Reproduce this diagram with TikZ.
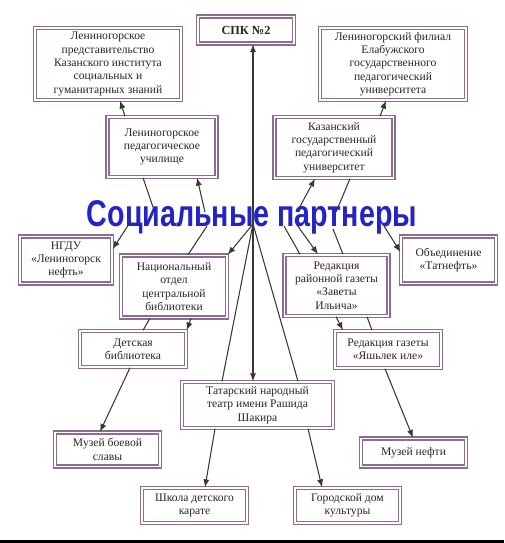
\documentclass[tikz,border=0pt]{standalone}
\usepackage{fontspec}
\setmainfont{Liberation Serif}
\newfontfamily\titlefont{Liberation Sans}
\usetikzlibrary{arrows.meta}

\definecolor{boxcol}{RGB}{140,108,145}
\definecolor{linecol}{RGB}{55,55,55}
\definecolor{titlecol}{RGB}{35,35,200}

\tikzset{
  box/.style 2 args={draw=boxcol, line width=0.8pt, double=white,
    double distance=0.7pt, fill=white, align=center, inner sep=1pt,
    text=black!85, font=\fontsize{6.6}{7.6}\selectfont,
    minimum width={#1*0.02cm}, minimum height={#2*0.02cm}},
  link/.style={draw=linecol, line width=0.6pt},
  arr/.style={link, -{Latex[length=4.5pt,width=3.5pt]}},
}

\begin{document}
\begin{tikzpicture}[x=0.02cm, y=-0.02cm]
  \useasboundingbox (0,0) rectangle (504,543);
  \fill[black] (0,540) rectangle (504,543);

  \node[box={96}{27}, font=\bfseries\fontsize{7}{8}\selectfont] (spk) at (246,30) {СПК №2};
  \node[box={146}{72}] (kisgz) at (108,64) {Лениногорское\\ представительство\\ Казанского института\\ социальных и\\ гуманитарных знаний};
  \node[box={146}{72}] (efil) at (393,64) {Лениногорский филиал\\ Елабужского\\ государственного\\ педагогический\\ университета};
  \node[box={109}{60}] (uch) at (162,147) {Лениногорское\\ педагогическое\\ училище};
  \node[box={119}{61}] (kgpu) at (334,147.5) {Казанский\\ государственный\\ педагогический\\ университет};

  \node[anchor=base, text=titlecol, font=\titlefont\bfseries\fontsize{16.3}{18}\selectfont] (title) at (252,227)
    {\scalebox{1}[1.3]{Социальные партнеры}};

  \node[box={92}{47}] (ngdu) at (66,260) {НГДУ\\ «Лениногорск\\ нефть»};
  \node[box={106}{62}] (nob) at (174,286.5) {Национальный\\ отдел\\ центральной\\ библиотеки};
  \node[box={104}{61}] (zav) at (336.5,285.5) {Редакция\\ районной газеты\\ «Заветы\\ Ильича»};
  \node[box={95}{47}] (tat) at (448.5,260) {Объединение\\ «Татнефть»};
  \node[box={106}{36}] (det) at (133,349) {Детская\\ библиотека};
  \node[box={106}{37}] (yal) at (388,349.5) {Редакция газеты\\ «Яшьлек иле»};
  \node[box={151}{46}] (teatr) at (257.5,405) {Татарский народный\\ театр имени Рашида\\ Шакира};
  \node[box={105}{34}] (muzb) at (107.5,449.5) {Музей боевой\\ славы};
  \node[box={105}{28}] (muzn) at (413.5,452.5) {Музей нефти};
  \node[box={105}{35}] (karate) at (194.5,505.5) {Школа детского\\ карате};
  \node[box={105}{35}] (gdk) at (347.5,505.5) {Городской дом\\ культуры};

  \coordinate (h) at (253,224);
  \coordinate (tu1) at (154,210);
  \coordinate (tu2) at (205,212);
  \coordinate (tk1) at (297,212);
  \coordinate (tk2) at (336,212);
  \coordinate (tn) at (131,221);
  \coordinate (tb) at (207,226);
  \coordinate (tt) at (384,226);
  \coordinate (tz1) at (297,225);
  \coordinate (tz2) at (284,226);
  \coordinate (tz3) at (333,229);

  \draw[arr] (h) -- (h |- spk.south);
  \draw[arr] (h) -- (h |- teatr.north);
  \draw[link] (h) -- (teatr.north -| 222,0);
  \draw[link] (h) -- (teatr.north -| 298,0);
  \draw[arr] (h) -- (nob.north east);

  \draw[arr] (uch.north -| 125,0) -- (kisgz.south -| 120,0);
  \draw[arr] (kgpu.north -| 380,0) -- (efil.south -| 386,0);
  \draw[link] (tu1) -- (uch.south -| 143,0);
  \draw[arr] (tu2) -- (uch.south -| 197,0);
  \draw[arr] (tk1) -- (kgpu.south -| 315,0);
  \draw[link] (tk2) -- (kgpu.south -| 350,0);

  \draw[arr] (tn) -- (ngdu.east |- 0,249);
  \draw[link] (tb) -- (nob.north -| 188,0);
  \draw[arr] (tt) -- (tat.west |- 0,252);
  \draw[arr] (tz1) -- (zav.north -| 318,0);
  \draw[link] (tz2) -- (zav.north -| 300,0);
  \draw[link] (tz3) -- (zav.north -| 343,0);

  \draw[link] (nob.south -| 150,0) -- (det.north -| 143,0);
  \draw[arr] (nob.south -| 191,0) -- (det.north east);
  \draw[arr] (det.south -| 130,0) -- (muzb.north -| 100,0);
  \draw[arr] (zav.south -| 336,0) -- (yal.north -| 343,0);
  \draw[link] (zav.south -| 367,0) -- (yal.north -| 372,0);
  \draw[arr] (yal.south -| 385,0) -- (muzn.north -| 413,0);
  \draw[arr] (teatr.south -| 215,0) -- (karate.north -| 205,0);
  \draw[arr] (teatr.south -| 308,0) -- (gdk.north -| 322,0);
\end{tikzpicture}
\end{document}
